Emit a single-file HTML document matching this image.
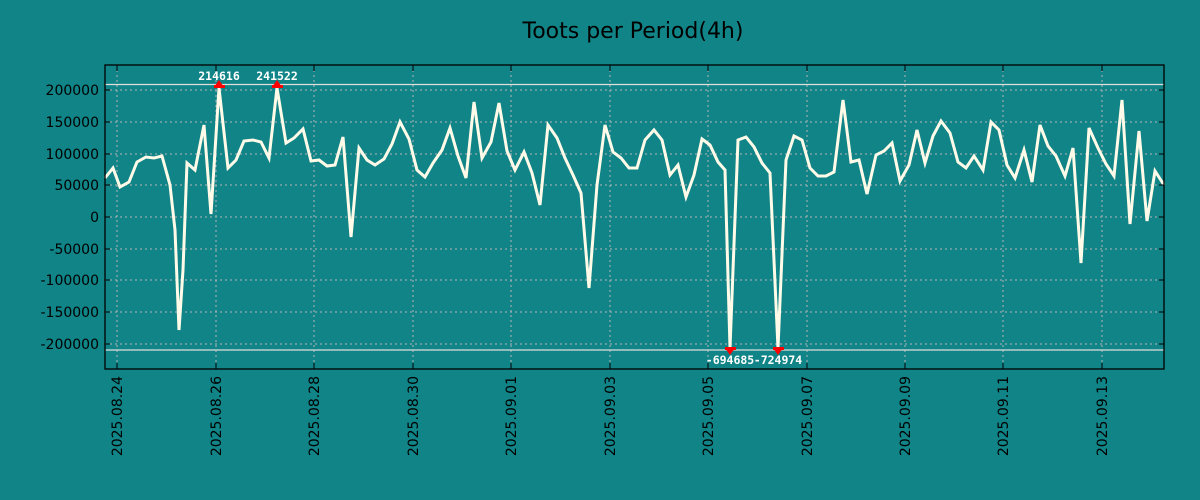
<!DOCTYPE html>
<html><head><style>body{margin:0;background:#118487;}svg{display:block}</style></head>
<body>
<svg width="1200" height="500" xmlns="http://www.w3.org/2000/svg" font-family="DejaVu Sans, Liberation Sans, sans-serif">
<rect width="1200" height="500" fill="#118487"/>
<text x="633" y="38" text-anchor="middle" font-size="22" fill="#000">Toots per Period(4h)</text>
<g stroke="#b4b4b4" stroke-dasharray="2,3" stroke-width="1">
<line x1="105" x2="1164" y1="90" y2="90"/><line x1="105" x2="1164" y1="122" y2="122"/><line x1="105" x2="1164" y1="154" y2="154"/><line x1="105" x2="1164" y1="185" y2="185"/><line x1="105" x2="1164" y1="217" y2="217"/><line x1="105" x2="1164" y1="249" y2="249"/><line x1="105" x2="1164" y1="280" y2="280"/><line x1="105" x2="1164" y1="312" y2="312"/><line x1="105" x2="1164" y1="344" y2="344"/>
<line y1="65" y2="369" x1="117" x2="117"/><line y1="65" y2="369" x1="216" x2="216"/><line y1="65" y2="369" x1="314" x2="314"/><line y1="65" y2="369" x1="413" x2="413"/><line y1="65" y2="369" x1="511" x2="511"/><line y1="65" y2="369" x1="610" x2="610"/><line y1="65" y2="369" x1="708" x2="708"/><line y1="65" y2="369" x1="807" x2="807"/><line y1="65" y2="369" x1="905" x2="905"/><line y1="65" y2="369" x1="1003" x2="1003"/><line y1="65" y2="369" x1="1102" x2="1102"/>
</g>
<line x1="105" x2="1164" y1="84.5" y2="84.5" stroke="#ddd" stroke-width="1.2"/>
<line x1="105" x2="1164" y1="350" y2="350" stroke="#ddd" stroke-width="1.2"/>
<polyline fill="none" stroke="#fffbe8" stroke-width="3" stroke-linejoin="miter" points="105,178 113,168 120,187 129,182 137,162 146,157 154,158 162,156 170,185 175,230 179,330 183,270 187,163 195,170 204,125 211,214 219,88 228,168 236,160 244,141 253,140 261,142 269,158 277,88 286,143 294,138 303,129 311,161 319,160 327,166 335,165 343,137 351,237 359,148 367,160 375,165 384,159 392,144 400,122 409,139 417,170 425,177 433,163 442,150 450,128 458,156 466,178 474,102 482,158 491,142 499,103 507,151 515,170 524,152 532,173 540,205 548,125 557,138 565,158 573,175 581,193 589,288 597,185 605,125 613,152 621,158 629,168 637,168 645,140 654,130 662,140 670,175 678,165 686,197 694,175 702,139 710,145 718,162 725,170 730,348 738,140 746,137 754,147 762,163 770,173 778,348 786,160 794,136 802,140 810,168 818,176 826,176 834,172 843,100 851,162 859,160 867,194 876,155 884,151 892,143 900,181 909,165 917,130 925,163 933,136 941,121 950,133 958,162 966,168 974,156 983,170 991,122 999,130 1007,165 1015,178 1024,150 1032,182 1040,125 1048,146 1056,156 1065,176 1073,148 1081,263 1089,128 1098,148 1106,164 1114,176 1122,100 1130,224 1139,131 1147,221 1155,171 1164,185"/>
<g fill="#f00">
<polygon points="214,87 224,87 219,80"/><rect x="214" y="85" width="11" height="3"/>
<polygon points="272,87 282,87 277,80"/><rect x="272" y="85" width="11" height="3"/>
<polygon points="725,348 735,348 730,355"/><rect x="725" y="347" width="11" height="3"/>
<polygon points="773,348 783,348 778,355"/><rect x="773" y="347" width="11" height="3"/>
</g>
<g font-family="DejaVu Sans Mono, Liberation Mono, monospace" font-weight="bold" font-size="11.5" fill="#fff" text-anchor="middle">
<text x="219" y="80">214616</text><text x="277" y="80">241522</text>
<text x="730" y="364">-694685</text><text x="778" y="364">-724974</text>
</g>
<rect x="105" y="65" width="1059" height="304" fill="none" stroke="#000" stroke-width="1.3"/>
<g stroke="#000" stroke-width="1">
<path d="M105,90h5M105,122h5M105,154h5M105,185h5M105,217h5M105,249h5M105,280h5M105,312h5M105,344h5M1164,90h-5M1164,122h-5M1164,154h-5M1164,185h-5M1164,217h-5M1164,249h-5M1164,280h-5M1164,312h-5M1164,344h-5"/>
<path d="M117,369v-6M216,369v-6M314,369v-6M413,369v-6M511,369v-6M610,369v-6M708,369v-6M807,369v-6M905,369v-6M1003,369v-6M1102,369v-6M117,65v6M216,65v6M314,65v6M413,65v6M511,65v6M610,65v6M708,65v6M807,65v6M905,65v6M1003,65v6M1102,65v6"/>
</g>
<g font-size="14" fill="#000" text-anchor="end">
<text x="99" y="95">200000</text><text x="99" y="127">150000</text><text x="99" y="159">100000</text><text x="99" y="190">50000</text><text x="99" y="222">0</text><text x="99" y="254">-50000</text><text x="99" y="285">-100000</text><text x="99" y="317">-150000</text><text x="99" y="349">-200000</text>
</g>
<g font-size="14" fill="#000" text-anchor="end">
<text transform="translate(122,376) rotate(-90)">2025.08.24</text>
<text transform="translate(221,376) rotate(-90)">2025.08.26</text>
<text transform="translate(319,376) rotate(-90)">2025.08.28</text>
<text transform="translate(418,376) rotate(-90)">2025.08.30</text>
<text transform="translate(516,376) rotate(-90)">2025.09.01</text>
<text transform="translate(615,376) rotate(-90)">2025.09.03</text>
<text transform="translate(713,376) rotate(-90)">2025.09.05</text>
<text transform="translate(812,376) rotate(-90)">2025.09.07</text>
<text transform="translate(910,376) rotate(-90)">2025.09.09</text>
<text transform="translate(1008,376) rotate(-90)">2025.09.11</text>
<text transform="translate(1107,376) rotate(-90)">2025.09.13</text>
</g>
</svg>
</body></html>
